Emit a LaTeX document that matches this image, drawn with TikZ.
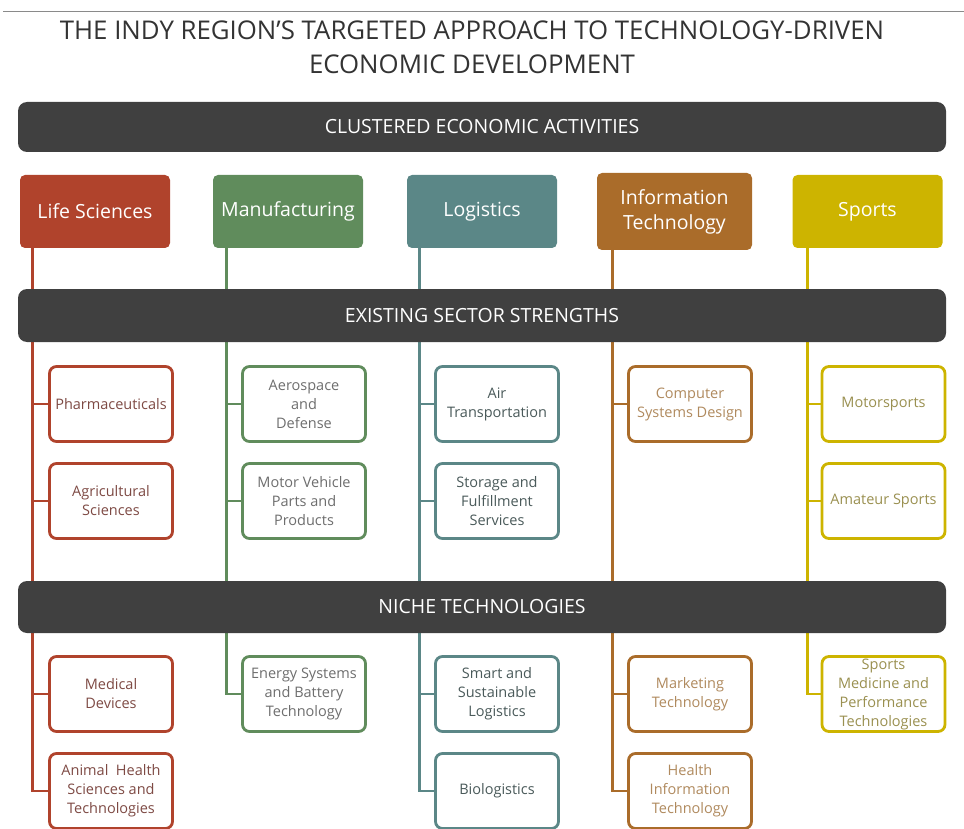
\documentclass[tikz,border=0pt]{standalone}
\usepackage{fontspec}
\setmainfont{Open Sans}
\usetikzlibrary{positioning,backgrounds}
\definecolor{slate}{HTML}{404040}
\definecolor{ink}{HTML}{333333}
\definecolor{rule}{HTML}{8A8A8A}
\definecolor{life}{HTML}{B0432C}
\definecolor{manu}{HTML}{608C5C}
\definecolor{logi}{HTML}{5B8787}
\definecolor{info}{HTML}{AA6C2A}
\definecolor{sport}{HTML}{CDB400}
\definecolor{lifetext}{HTML}{7E4A44}
\definecolor{manutext}{HTML}{6E6E6E}
\definecolor{logitext}{HTML}{4A5A5A}
\definecolor{infotext}{HTML}{B08A5E}
\definecolor{sporttext}{HTML}{9A9050}
\begin{document}
\begin{tikzpicture}[x=1pt,y=-1pt,
  head/.style={rounded corners=5pt,minimum width=150pt,minimum height=73pt,inner sep=0pt,text=white,align=center,font=\fontsize{19.5}{25}\selectfont},
  band/.style={fill=slate,rounded corners=9pt,minimum width=928pt,inner sep=0pt,text=white,font=\fontsize{19.5}{22}\selectfont},
  item/.style={draw,fill=white,line width=2.8pt,rounded corners=7pt,minimum width=123pt,minimum height=75pt,inner sep=0pt,align=center,font=\fontsize{14.5}{19}\selectfont},
  lifeitem/.style={item,draw=life,text=lifetext},
  manuitem/.style={item,draw=manu,text=manutext},
  logiitem/.style={item,draw=logi,text=logitext},
  infoitem/.style={item,draw=info,text=infotext},
  sportitem/.style={item,draw=sport,text=sporttext},
  link/.style={line width=2.8pt}]
\useasboundingbox (0,0) rectangle (964,829);
\draw[draw=rule,line width=1.6pt] (3,11.5) -- (964,11.5);
\node[align=center,text=ink,font=\fontsize{25.8}{34}\selectfont] (title) at (472,47) {THE INDY REGION’S TARGETED APPROACH TO TECHNOLOGY-DRIVEN\\ECONOMIC DEVELOPMENT};
\node[band,minimum height=50pt] (clustered) at (482,127) {CLUSTERED ECONOMIC ACTIVITIES};
\node[band,minimum height=53pt] (existing) at (482,315.5) {EXISTING SECTOR STRENGTHS};
\node[band,minimum height=52pt] (niche) at (482,607) {NICHE TECHNOLOGIES};
\node[head,fill=life] (life) at (95,211.5) {Life Sciences};
\node[head,fill=manu] (manu) at (288,211.5) {Manufacturing};
\node[head,fill=logi] (logi) at (482,211.5) {Logistics};
\node[head,fill=info,minimum width=155pt,minimum height=77pt] (info) at (674.5,211.5) {Information\\Technology};
\node[head,fill=sport] (sport) at (867.5,211.5) {Sports};
\node[lifeitem] (pharma) at (111,404) {Pharmaceuticals};
\node[lifeitem] (agri) at (111,501) {Agricultural\\Sciences};
\node[lifeitem] (meddev) at (111,694) {Medical\\Devices};
\node[lifeitem] (animal) at (111,791) {Animal\ \ Health\\Sciences and\\Technologies};
\node[manuitem] (aero) at (304,404) {Aerospace\\and\\Defense};
\node[manuitem] (motor) at (304,501) {Motor Vehicle\\Parts and\\Products};
\node[manuitem] (energy) at (304,694) {Energy Systems\\and Battery\\Technology};
\node[logiitem] (air) at (497,404) {Air\\Transportation};
\node[logiitem] (storage) at (497,501) {Storage and\\Fulfillment\\Services};
\node[logiitem] (smartlog) at (497,694) {Smart and\\Sustainable\\Logistics};
\node[logiitem] (biolog) at (497,791) {Biologistics};
\node[infoitem] (compsys) at (690,404) {Computer\\Systems Design};
\node[infoitem] (marketing) at (690,694) {Marketing\\Technology};
\node[infoitem] (healthit) at (690,791) {Health\\Information\\Technology};
\node[sportitem] (motorsp) at (883.5,404) {Motorsports};
\node[sportitem] (amateur) at (883.5,501) {Amateur Sports};
\node[sportitem] (sportsmed) at (883.5,694) {Sports\\Medicine and\\Performance\\Technologies};
\begin{scope}[on background layer]
\draw[link,draw=life] ([xshift=13pt]life.south west) |- (animal.west);
\draw[link,draw=life] ([xshift=13pt]life.south west) |- (pharma.west);
\draw[link,draw=life] ([xshift=13pt]life.south west) |- (agri.west);
\draw[link,draw=life] ([xshift=13pt]life.south west) |- (meddev.west);
\draw[link,draw=manu] ([xshift=14pt]manu.south west) |- (energy.west);
\draw[link,draw=manu] ([xshift=14pt]manu.south west) |- (aero.west);
\draw[link,draw=manu] ([xshift=14pt]manu.south west) |- (motor.west);
\draw[link,draw=logi] ([xshift=13pt]logi.south west) |- (biolog.west);
\draw[link,draw=logi] ([xshift=13pt]logi.south west) |- (air.west);
\draw[link,draw=logi] ([xshift=13pt]logi.south west) |- (storage.west);
\draw[link,draw=logi] ([xshift=13pt]logi.south west) |- (smartlog.west);
\draw[link,draw=info] ([xshift=16pt]info.south west) |- (healthit.west);
\draw[link,draw=info] ([xshift=16pt]info.south west) |- (compsys.west);
\draw[link,draw=info] ([xshift=16pt]info.south west) |- (marketing.west);
\draw[link,draw=sport] ([xshift=15pt]sport.south west) |- (sportsmed.west);
\draw[link,draw=sport] ([xshift=15pt]sport.south west) |- (motorsp.west);
\draw[link,draw=sport] ([xshift=15pt]sport.south west) |- (amateur.west);
\end{scope}
\end{tikzpicture}
\end{document}
